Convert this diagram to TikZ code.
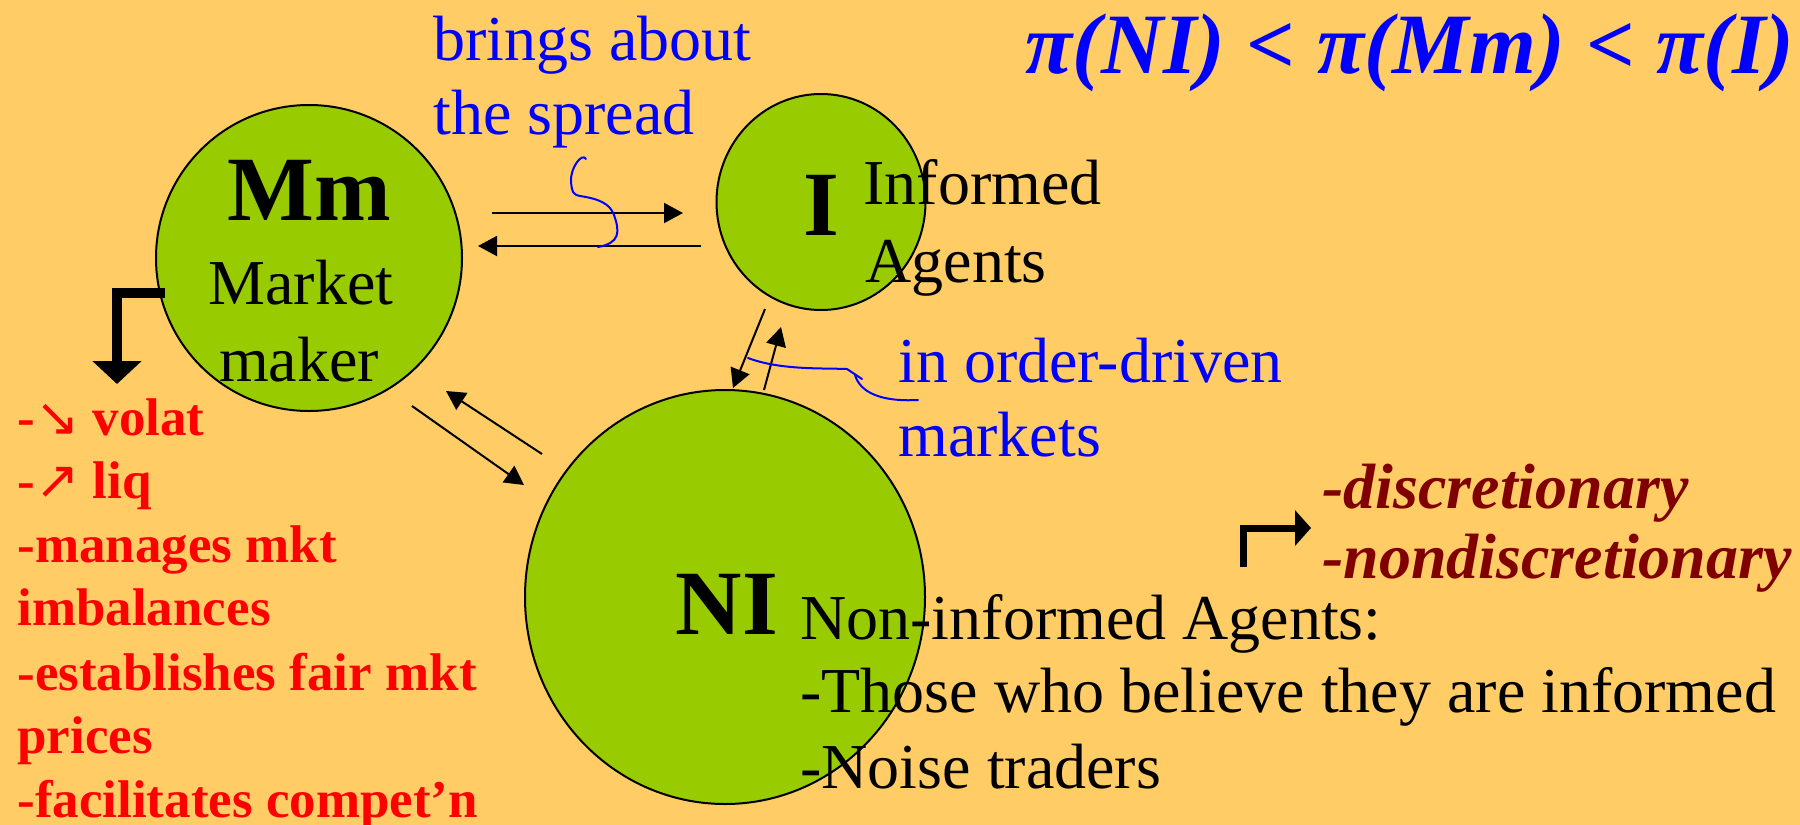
\documentclass[tikz,border=0pt]{standalone}
\usepackage{fontspec}
\setmainfont{Liberation Serif}
\newfontfamily\symfont{DejaVu Sans}
\usetikzlibrary{shapes.geometric,arrows.meta}
\definecolor{bg}{HTML}{FFCC66}
\definecolor{agentgreen}{HTML}{99CC00}
\definecolor{darkred}{HTML}{800000}
\definecolor{penblue}{HTML}{0000FF}
\definecolor{listred}{HTML}{FF0000}
\begin{document}
\begin{tikzpicture}[x=0.5pt,y=-0.5pt,
  agent/.style={ellipse, draw=black, line width=1pt, fill=agentgreen, inner sep=0pt},
  txt/.style={inner sep=0pt, anchor=base west},
  ctxt/.style={inner sep=0pt, anchor=base},
  reg/.style={font=\fontsize{32}{38}\selectfont},
  big/.style={font=\fontsize{46}{52}\selectfont\bfseries},
  redlist/.style={txt, text=listred, font=\fontsize{26.5}{32}\selectfont\bfseries},
  blue/.style={txt, reg, text=penblue},
  flow/.style={line width=1pt, -{Triangle[length=9.5pt,width=10pt]}},
  pen/.style={penblue, line width=1pt, line cap=round, line join=round},
  bent/.style={line join=miter, line cap=butt}
]
\fill[bg] (0,0) rectangle (1800,825);
\useasboundingbox (0,0) rectangle (1800,825);

% agents
\node[agent, minimum width=153pt, minimum height=153pt] (Mm) at (309,258) {};
\node[agent, minimum width=104.5pt, minimum height=108pt] (I) at (821,202) {};
\node[agent, minimum width=200pt, minimum height=207pt] (NI) at (725,597) {};

\node[ctxt, big] (MmL) at (309,220) {Mm};
\node[ctxt, reg] (MmA) at (301,304) {Market};
\node[ctxt, reg] (MmB) at (299,381) {maker};
\node[ctxt, big] (IL) at (821,235) {I};
\node[txt, reg] (IA) at (863,204) {Informed};
\node[txt, reg] (IB) at (865,282) {Agents};
\node[ctxt, big] (NIL) at (727,634) {NI};
\node[txt, reg] (NIA) at (800,639) {Non-informed Agents:};
\node[txt, reg] (NIB) at (800,712) {-Those who believe they are informed};
\node[txt, reg] (NIC) at (800,788) {-Noise traders};

% title
\node[txt, text=penblue, font=\fontsize{43}{49}\selectfont\bfseries\itshape] (title) at (1025,73) {π(NI) < π(Mm) < π(I)};

% blue notes
\node[blue] (spreadA) at (433,60) {brings about};
\node[blue] (spreadB) at (433,134) {the spread};
\node[blue] (odA) at (898,382) {in order-driven};
\node[blue] (odB) at (898,456) {markets};

% flows
\coordinate (a1) at (492,213); \coordinate (a2) at (683,213);
\coordinate (b1) at (701,246); \coordinate (b2) at (478,246);
\coordinate (c1) at (765,309); \coordinate (c2) at (733,388);
\coordinate (d1) at (764,390); \coordinate (d2) at (781,327);
\coordinate (e1) at (412,406); \coordinate (e2) at (524,485);
\coordinate (f1) at (542,454); \coordinate (f2) at (446,391);
\draw[flow] (a1) -- (a2);
\draw[flow] (b1) -- (b2);
\draw[flow] (c1) -- (c2);
\draw[flow] (d1) -- (d2);
\draw[flow] (e1) -- (e2);
\draw[flow] (f1) -- (f2);

% pen squiggles
\draw[pen] (586,159) .. controls (582,152) and (570,168) .. (571,182)
  .. controls (572,193) and (574,195) .. (580,196)
  .. controls (600,199) and (610,204) .. (614,215)
  .. controls (620,232) and (620,243) .. (598,247);
\draw[pen] (748,358) .. controls (780,370) and (820,368) .. (847,369) -- (862,379);
\draw[pen] (855,375) .. controls (860,392) and (880,402) .. (918,400);

% bent arrows
\coordinate (g1) at (165,293); \coordinate (g2) at (117,384);
\draw[bent, line width=5pt, -{Triangle[length=11.5pt,width=24pt]}] (g1) -| (g2);
\coordinate (h1) at (1243,567); \coordinate (h2) at (1311,528);
\draw[bent, line width=3.5pt, -{Triangle[length=8pt,width=17.5pt]}] (h1) |- (h2);

% red list
\node[redlist] (r1) at (17,435) {-{\symfont\mdseries ↘} volat};
\node[redlist] (r2) at (17,498) {-{\symfont\mdseries ↗} liq};
\node[redlist] (r3) at (17,562) {-manages mkt};
\node[redlist] (r4) at (17,625) {imbalances};
\node[redlist] (r5) at (17,690) {-establishes fair mkt};
\node[redlist] (r6) at (17,753) {prices};
\node[redlist] (r7) at (17,817) {-facilitates compet’n};

% discretionary
\node[txt, text=darkred, font=\fontsize{32}{38}\selectfont\bfseries\itshape] (dA) at (1322,508) {-discretionary};
\node[txt, text=darkred, font=\fontsize{32}{38}\selectfont\bfseries\itshape] (dB) at (1322,578) {-nondiscretionary};
\end{tikzpicture}
\end{document}
